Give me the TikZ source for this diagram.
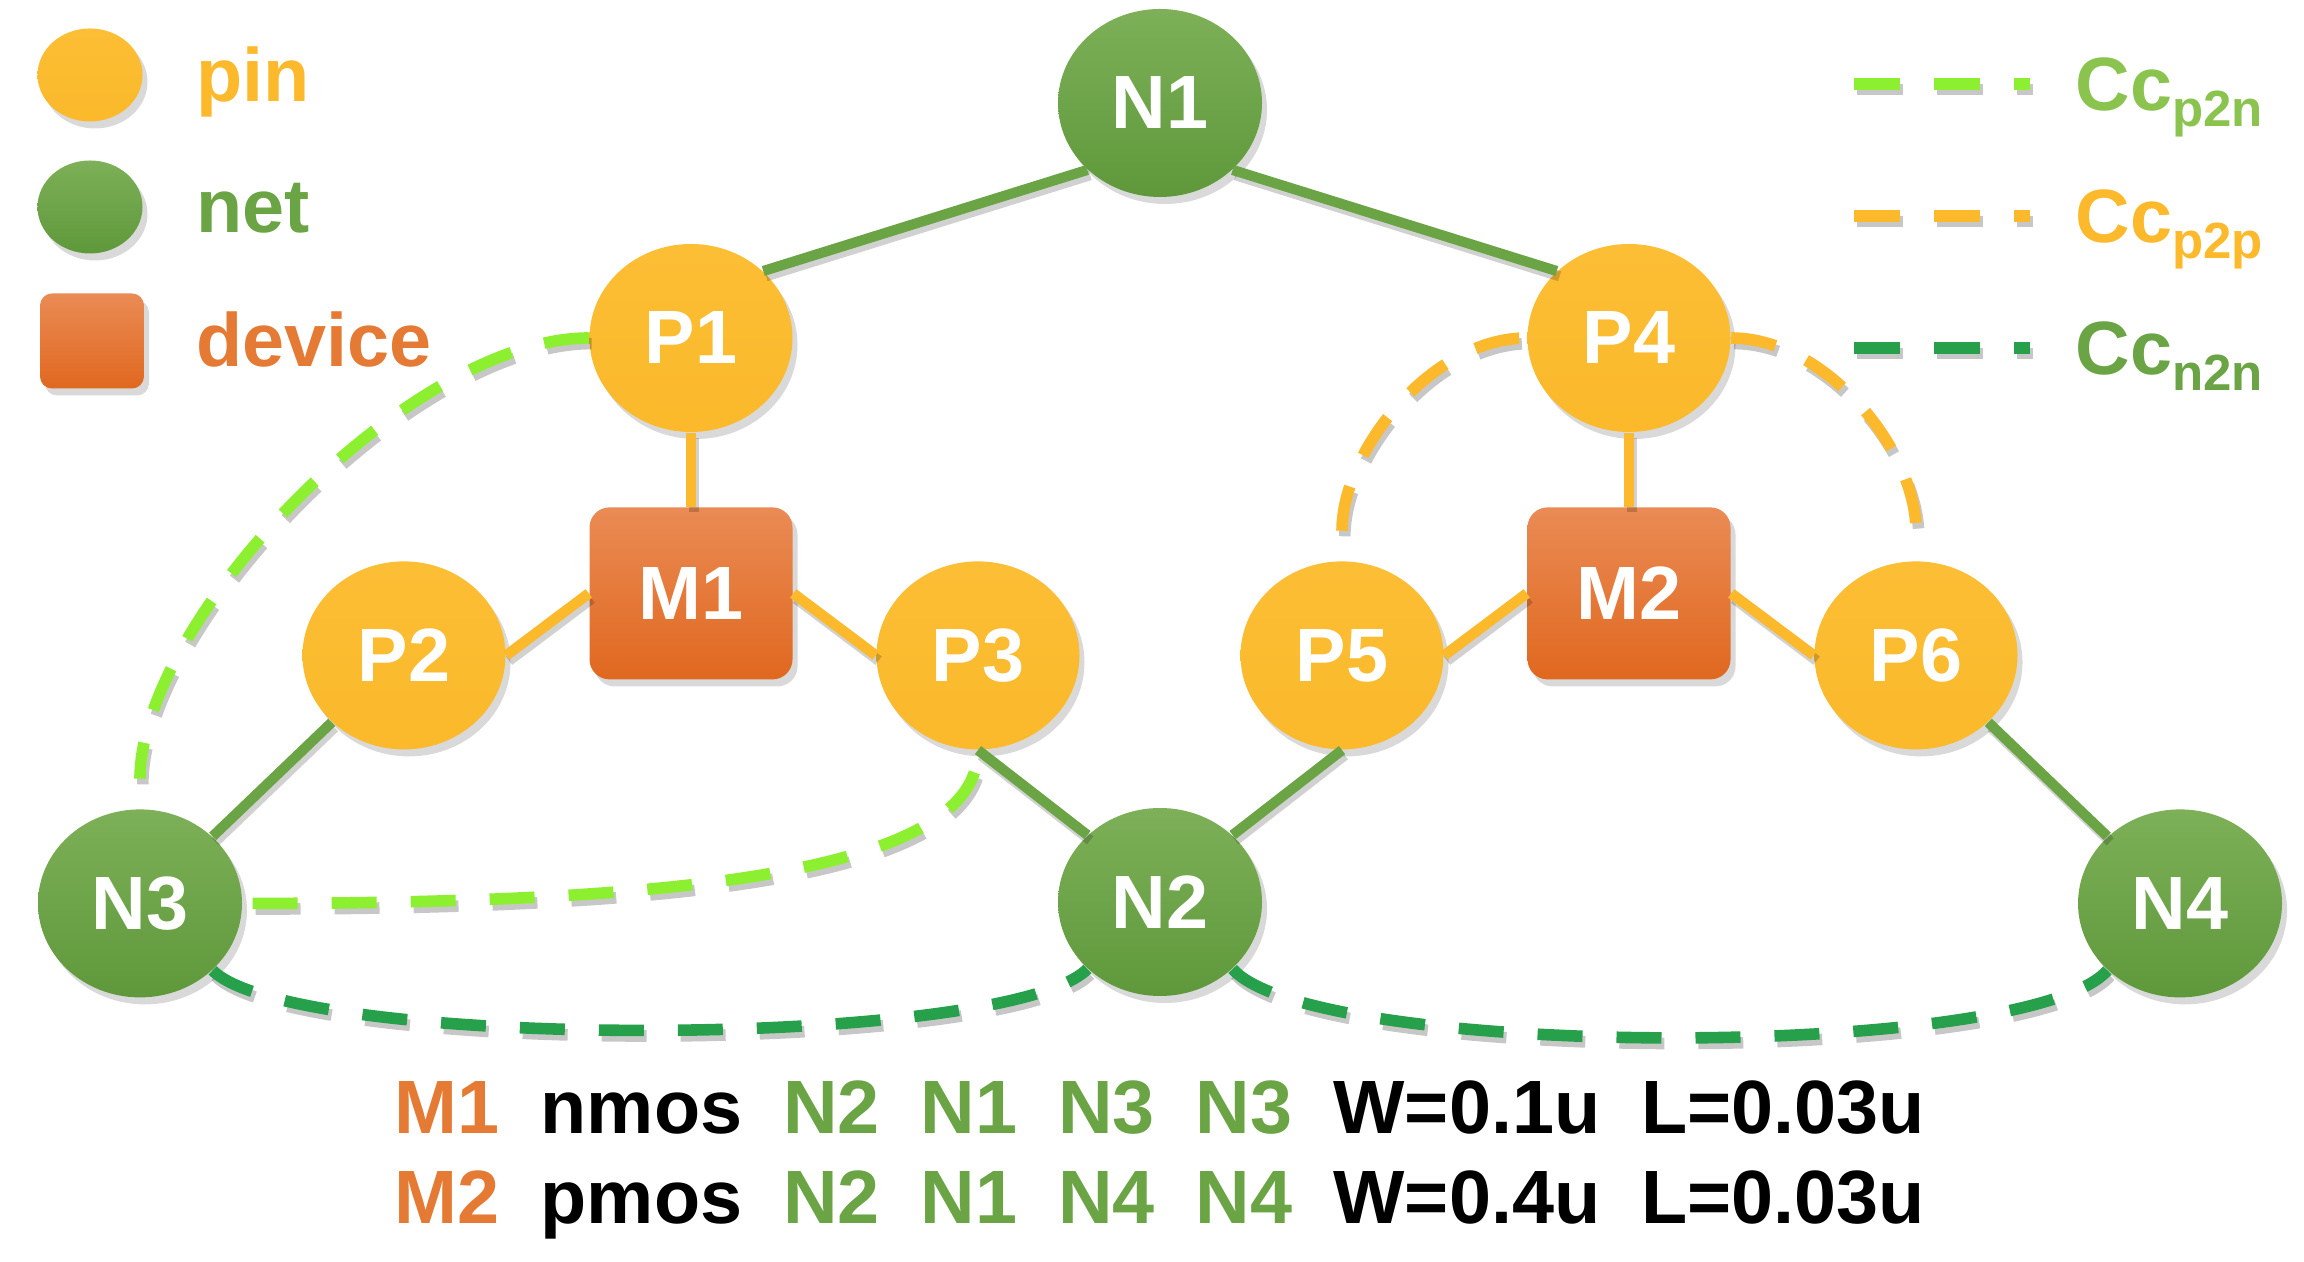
\documentclass[tikz,border=0pt]{standalone}
\usepackage{fontspec}
\setmainfont{Liberation Sans}
\usetikzlibrary{positioning}
\usetikzlibrary{shapes.geometric}
\usetikzlibrary{shadows}

\definecolor{pincol}{HTML}{FBB92B}
\definecolor{pintop}{HTML}{FCBE35}
\definecolor{nettop}{HTML}{7DB058}
\definecolor{netbot}{HTML}{5F983B}
\definecolor{netcol}{HTML}{6AA444}
\definecolor{devtop}{HTML}{EA8B55}
\definecolor{devbot}{HTML}{E0681F}
\definecolor{devcol}{HTML}{E57A34}
\definecolor{ptwon}{HTML}{8CF030}
\definecolor{ptwontext}{HTML}{8BC34F}
\definecolor{ntwon}{HTML}{26A04A}

\tikzset{
  bigfont/.style={font=\fontsize{21.5}{26}\selectfont\bfseries},
  label/.style={bigfont, inner sep=0pt, anchor=base west},
  nshadow/.style={drop shadow={shadow xshift=0.05cm, shadow yshift=-0.07cm, opacity=0.3}},
  wshadow/.style={preaction={draw=black, opacity=0.18, line width=#1, transform canvas={xshift=0.8pt, yshift=-1.5pt}}},
  dshadow/.style={preaction={draw=black, opacity=0.22, line width=3.3pt, dash pattern=#1, transform canvas={xshift=0.8pt, yshift=-1.6pt}}},
  pinnode/.style={ellipse, bigfont, text=white, inner sep=0pt, minimum width=2.03cm, minimum height=1.88cm, top color=pintop, bottom color=pincol, nshadow},
  netnode/.style={ellipse, bigfont, text=white, inner sep=0pt, minimum width=2.04cm, minimum height=1.88cm, top color=nettop, bottom color=netbot, nshadow},
  devnode/.style={rectangle, rounded corners=0.2cm, bigfont, text=white, inner sep=0pt, minimum width=2.03cm, minimum height=1.72cm, top color=devtop, bottom color=devbot, nshadow},
  pinwire/.style={draw=pincol, line width=3pt, wshadow=3pt},
  netwire/.style={draw=netcol, line width=2.9pt, wshadow=2.9pt},
  capline/.style={line width=3.3pt, dash pattern=on 0.45cm off 0.34cm, dshadow={on 0.45cm off 0.34cm}},
  legline/.style={line width=3.3pt, dash pattern=on 0.46cm off 0.34cm, dshadow={on 0.46cm off 0.34cm}}
}

\begin{document}
\begin{tikzpicture}
  \useasboundingbox (0,0) rectangle (23.04,12.62);

  % legend
  \node[pinnode, minimum width=1.05cm, minimum height=0.93cm] (lpin) at (0.90,11.87) {};
  \node[netnode, minimum width=1.05cm, minimum height=0.93cm] (lnet) at (0.90,10.55) {};
  \node[devnode, minimum width=1.04cm, minimum height=0.95cm, rounded corners=0.12cm] (ldev) at (0.92,9.21) {};
  \node[label, text=pincol] (tpin) at (1.96,11.60) {pin};
  \node[label, text=netcol] (tnet) at (1.96,10.29) {net};
  \node[label, text=devcol] (tdev) at (1.96,8.95) {device};

  \coordinate (c1a) at (18.54,11.78);
  \coordinate (c1b) at (20.30,11.78);
  \coordinate (c2a) at (18.54,10.46);
  \coordinate (c2b) at (20.30,10.46);
  \coordinate (c3a) at (18.54,9.14);
  \coordinate (c3b) at (20.30,9.14);
  \draw[legline, draw=ptwon] (c1a) -- (c1b);
  \draw[legline, draw=pincol] (c2a) -- (c2b);
  \draw[legline, draw=ntwon] (c3a) -- (c3b);
  \node[label, text=ptwontext] (tc1) at (20.75,11.51) {Cc\raisebox{-0.2em}{\fontsize{14.5}{14.5}\selectfont p2n}};
  \node[label, text=pincol] (tc2) at (20.75,10.19) {Cc\raisebox{-0.2em}{\fontsize{14.5}{14.5}\selectfont p2p}};
  \node[label, text=netcol] (tc3) at (20.75,8.87) {Cc\raisebox{-0.2em}{\fontsize{14.5}{14.5}\selectfont n2n}};

  % graph
  \node[netnode] (N1) at (11.6,11.59) {N1};
  \node[pinnode] (P1) at ([xshift=-4.69cm,yshift=-2.35cm]N1) {P1};
  \node[pinnode] (P4) at ([xshift=4.69cm,yshift=-2.35cm]N1) {P4};
  \node[devnode, below=0.74cm of P1] (M1) {M1};
  \node[devnode, below=0.74cm of P4] (M2) {M2};
  \node[pinnode] (P2) at ([xshift=-2.87cm,yshift=-0.62cm]M1) {P2};
  \node[pinnode] (P3) at ([xshift=2.87cm,yshift=-0.62cm]M1) {P3};
  \node[pinnode] (P5) at ([xshift=-2.87cm,yshift=-0.62cm]M2) {P5};
  \node[pinnode] (P6) at ([xshift=2.87cm,yshift=-0.62cm]M2) {P6};
  \node[netnode] (N2) at ([yshift=-7.99cm]N1) {N2};
  \node[netnode] (N3) at ([xshift=-2.64cm,yshift=-2.48cm]P2) {N3};
  \node[netnode] (N4) at ([xshift=2.64cm,yshift=-2.48cm]P6) {N4};

  \draw[netwire] (N1.south west) -- (P1.north east);
  \draw[netwire] (N1.south east) -- (P4.north west);
  \draw[pinwire] (P1.south) -- (M1.north);
  \draw[pinwire] (P4.south) -- (M2.north);
  \draw[pinwire] (M1.west) -- (P2.east);
  \draw[pinwire] (M1.east) -- (P3.west);
  \draw[pinwire] (M2.west) -- (P5.east);
  \draw[pinwire] (M2.east) -- (P6.west);
  \draw[netwire] (P2.south west) -- (N3.north east);
  \draw[netwire] (P3.south) -- (N2.north west);
  \draw[netwire] (P5.south) -- (N2.north east);
  \draw[netwire] (P6.south east) -- (N4.north west);

  % coupling caps
  \draw[capline, draw=ptwon, shorten >=0.3cm] (P1.west) .. controls +(-1.8,0) and +(0,1.88) .. (N3.north);
  \draw[capline, draw=ptwon, shorten <=0.1cm] (N3.east) .. controls +(4.5,0) and +(0,-1.2) .. (P3.south);
  \draw[capline, draw=pincol, shorten <=0.3cm] (P5.north) .. controls +(0,1.1) and +(-0.95,0) .. (P4.west);
  \draw[capline, draw=pincol, shorten >=0.3cm] (P4.east) .. controls +(0.95,0) and +(0,1.1) .. (P6.north);
  \draw[capline, draw=ntwon] (N3.south east) .. controls +(0.8,-0.81) and +(-0.8,-0.81) .. (N2.south west);
  \draw[capline, draw=ntwon] (N2.south east) .. controls +(0.8,-0.91) and +(-0.8,-0.91) .. (N4.south west);

  % netlist
  \node[label] (row1) at (3.94,1.28) {\textcolor{devcol}{M1}\hspace{0.41cm}nmos\hspace{0.41cm}\textcolor{netcol}{N2}\hspace{0.41cm}\textcolor{netcol}{N1}\hspace{0.41cm}\textcolor{netcol}{N3}\hspace{0.41cm}\textcolor{netcol}{N3}\hspace{0.41cm}W=0.1u\hspace{0.41cm}L=0.03u};
  \node[label] (row2) at (3.94,0.38) {\textcolor{devcol}{M2}\hspace{0.41cm}pmos\hspace{0.41cm}\textcolor{netcol}{N2}\hspace{0.41cm}\textcolor{netcol}{N1}\hspace{0.41cm}\textcolor{netcol}{N4}\hspace{0.41cm}\textcolor{netcol}{N4}\hspace{0.41cm}W=0.4u\hspace{0.41cm}L=0.03u};
\end{tikzpicture}
\end{document}
